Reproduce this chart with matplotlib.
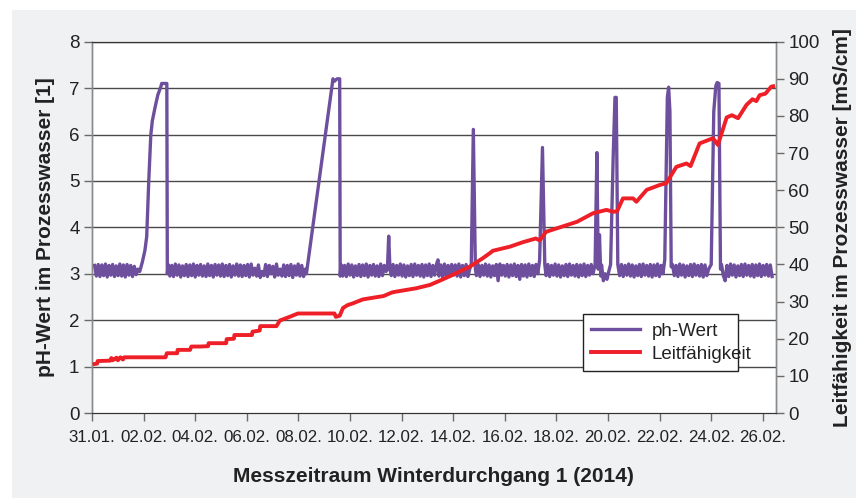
import numpy as np
import matplotlib
matplotlib.use("Agg")
import matplotlib.pyplot as plt
from matplotlib.patches import Rectangle
from matplotlib import font_manager

names = {f.name for f in font_manager.fontManager.ttflist}
fam = [n for n in ["Liberation Sans Narrow", "Liberation Sans", "DejaVu Sans"] if n in names]
plt.rcParams["font.family"] = fam

# ---------------- data ----------------
x_tick_labels = ["31.01.", "02.02.", "04.02.", "06.02.", "08.02.", "10.02.", "12.02.",
                 "14.02.", "16.02.", "18.02.", "20.02.", "22.02.", "24.02.", "26.02."]
series_names = ["ph-Wert", "Leitfähigkeit"]

# pH: baseline sampled every 0.07 day (values in pH*100); peaks as explicit (day, pH) points
ph_step = 0.07
base1_start = 0.1
base1 = [318, 295, 320, 294, 319, 296, 321, 293, 318, 297, 320, 294, 317, 296, 321, 295,
         319, 293, 320, 297, 318, 294, 316, 298, 310]
rise1_t = [1.85, 1.95, 2.05, 2.12, 2.20, 2.28, 2.34, 2.45, 2.55, 2.68, 2.70, 2.90, 2.92]
rise1_v = [3.05, 3.25, 3.50, 3.80, 5.00, 6.00, 6.30, 6.60, 6.85, 7.05, 7.10, 7.10, 3.00]
base2_start = 2.95
base2 = [320, 295, 318, 294, 321, 297, 319, 293, 317, 296, 320, 294,
         319, 296, 321, 293, 318, 297, 320, 295, 317, 294, 321, 296,
         318, 293, 320, 297, 319, 295, 321, 294, 318, 296, 320, 293,
         317, 297, 321, 295, 319, 294, 318, 296, 320, 293, 321, 297,
         312, 295, 319, 292, 305, 296, 320, 294, 318, 300, 316, 293,
         321, 297, 310, 295, 319, 294, 318, 296, 320, 292, 317, 297,
         321, 295, 318, 294, 310]
rise2_t = [8.31, 9.34, 9.40, 9.50, 9.60, 9.62]
rise2_v = [3.00, 7.20, 7.15, 7.20, 7.20, 2.95]
base3_start = 9.65
base3 = [320, 295, 318, 294, 321, 297, 319, 293, 317, 296, 320, 294,
         319, 296, 321, 293, 318, 297, 320, 295, 317, 294, 321, 296, 318, 305]
spk1_t = [11.45, 11.50, 11.55]
spk1_v = [3.10, 3.81, 3.10]
base4_start = 11.6
base4 = [296, 320, 294, 318, 297, 321, 295, 319, 293, 317, 296, 320,
         294, 321, 297, 318, 295, 320, 293, 319, 296, 321, 294, 318, 297, 320]
bump_t = [13.41]
bump_v = [3.30]
base5_start = 13.45
base5 = [295, 319, 293, 321, 296, 318, 294, 320, 297, 319, 295, 321, 293, 318, 296, 320, 294, 310]
spk2_t = [14.70, 14.78, 14.86]
spk2_v = [3.20, 6.11, 3.10]
base6_start = 14.9
base6 = [296, 320, 294, 318, 297, 321, 295, 319, 293, 317, 296, 320,
         285, 321, 297, 318, 295, 320, 293, 319, 296, 321, 294, 318,
         288, 320, 295, 319, 293, 321, 296, 318, 294, 320, 300]
spk3_t = [17.35, 17.46, 17.55]
spk3_v = [3.30, 5.72, 3.20]
base7_start = 17.6
base7 = [296, 320, 294, 318, 297, 321, 295, 319, 293, 317, 296, 320,
         294, 321, 297, 318, 295, 320, 293, 319, 296, 321, 294, 318, 297, 320, 300]
spk4_t = [19.50, 19.57, 19.62, 19.67, 19.72]
spk4_v = [3.20, 5.61, 3.10, 3.84, 2.95]
base8_start = 19.75
base8 = [319, 285, 300, 288, 305]
spk5_t = [20.10, 20.20, 20.27, 20.32, 20.38]
spk5_v = [3.20, 5.50, 6.80, 6.80, 3.20]
base9_start = 20.45
base9 = [296, 320, 294, 318, 297, 321, 295, 319, 293, 317, 296, 320,
         294, 321, 297, 318, 295, 320, 293, 319, 296, 321, 294, 318, 300]
spk6_t = [22.20, 22.30, 22.35, 22.40, 22.45]
spk6_v = [3.30, 6.80, 7.02, 6.50, 3.15]
base10_start = 22.5
base10 = [320, 296, 318, 294, 321, 297, 319, 293, 317, 296, 320, 294,
          321, 297, 318, 295, 320, 293, 319, 296, 310]
spk7_t = [24.00, 24.10, 24.18, 24.23, 24.30, 24.36]
spk7_v = [3.20, 6.50, 7.05, 7.12, 7.10, 3.10]
base11_start = 24.4
base11 = [320, 296, 285, 318, 294, 321, 297, 319, 293, 317, 296, 320,
          294, 321, 297, 318, 295, 320, 293, 319, 296, 321, 294, 318,
          297, 320, 295, 319, 294]

# conductivity (day, mS/cm)
lf_t = [0.10, 0.20, 0.22, 0.70, 0.75, 0.80, 0.95, 1.00, 1.10, 1.20, 1.25, 2.85, 2.90, 3.30,
        3.32, 3.80, 3.85, 4.20, 4.50, 4.52, 5.20, 5.22, 5.50, 5.52, 6.20, 6.22, 6.50, 6.52,
        7.15, 7.28, 7.66, 7.98, 9.40, 9.45, 9.60, 9.73, 9.92, 10.10, 10.50, 11.30, 11.64,
        11.80, 12.57, 13.10, 13.60, 14.10, 14.64, 15.15, 15.41, 15.54, 16.20, 16.70, 17.20,
        17.35, 17.60, 18.00, 18.40, 18.80, 19.42, 19.94, 20.20, 20.35, 20.58, 20.97, 21.10,
        21.50, 22.00, 22.26, 22.65, 23.04, 23.20, 23.55, 24.07, 24.26, 24.60, 24.80, 25.04,
        25.37, 25.60, 25.75, 25.88, 26.10, 26.33, 26.40]
lf_v = [13.2, 13.3, 14.0, 14.1, 14.8, 14.2, 14.9, 14.2, 15.0, 14.4, 15.0, 15.0, 16.1, 16.1,
        17.0, 17.0, 17.9, 17.9, 18.0, 18.8, 18.8, 19.9, 20.0, 21.0, 21.0, 21.9, 22.2, 23.4,
        23.4, 24.9, 25.9, 26.8, 26.8, 25.9, 26.2, 28.3, 29.1, 29.5, 30.6, 31.5, 32.5,
        32.7, 33.6, 34.5, 36.0, 37.6, 39.4, 41.7, 43.0, 43.7, 44.8, 46.0, 47.0,
        46.5, 48.8, 49.7, 50.6, 51.5, 53.8, 54.7, 54.2, 54.3, 57.8, 57.8, 56.9,
        60.1, 61.4, 61.9, 66.3, 67.2, 66.5, 72.6, 74.0, 72.2, 79.6, 80.2, 79.4,
        83.0, 84.5, 84.0, 85.6, 86.0, 87.9, 88.0]

# ------------- assemble pH series -------------
def base_seg(start, vals):
    t = start + ph_step * np.arange(len(vals))
    return list(t), [v / 100.0 for v in vals]

pieces = [
    base_seg(base1_start, base1), (rise1_t, rise1_v),
    base_seg(base2_start, base2), (rise2_t, rise2_v),
    base_seg(base3_start, base3), (spk1_t, spk1_v),
    base_seg(base4_start, base4), (bump_t, bump_v),
    base_seg(base5_start, base5), (spk2_t, spk2_v),
    base_seg(base6_start, base6), (spk3_t, spk3_v),
    base_seg(base7_start, base7), (spk4_t, spk4_v),
    base_seg(base8_start, base8), (spk5_t, spk5_v),
    base_seg(base9_start, base9), (spk6_t, spk6_v),
    base_seg(base10_start, base10), (spk7_t, spk7_v),
    base_seg(base11_start, base11),
]
ph_t, ph_v = [], []
for t, v in pieces:
    ph_t += list(t)
    ph_v += list(v)

# ------------- figure -------------
W, H = 856, 498
fig = plt.figure(figsize=(W / 100, H / 100), dpi=100)
fig.patch.set_facecolor("white")
fig.add_artist(Rectangle((12 / W, 0), 1 - 12 / W, 1 - 10 / H, transform=fig.transFigure,
                         facecolor="#f0f1f3", edgecolor="none", zorder=0))

ax = fig.add_axes([92 / W, 1 - 413 / H, (775.7 - 92) / W, (413 - 41.7) / H])
ax.set_facecolor("white")
ax.set_zorder(1)

purple = "#6e4f9e"
red = "#ee1f26"

ax.set_xlim(0, 26.5)
ax.set_ylim(0, 8)
ax.set_yticks(range(0, 9))
ax.set_xticks(np.arange(0, 27, 2))
ax.set_xticklabels(x_tick_labels)
for y in range(1, 9):
    ax.axhline(y, color="#4a4a4a", lw=1.0, zorder=1)

l1, = ax.plot(ph_t, ph_v, color=purple, lw=2.4, zorder=3, solid_joinstyle="round")

ax2 = ax.twinx()
ax2.set_ylim(0, 100)
ax2.set_yticks(range(0, 101, 10))
l2, = ax2.plot(lf_t, lf_v, color=red, lw=2.8, zorder=4, solid_joinstyle="round")

for a in (ax, ax2):
    for s in ("left", "right"):
        a.spines[s].set_color("#8a8a8a")
        a.spines[s].set_linewidth(1.0)
    a.spines["bottom"].set_color("#333333")
    a.spines["top"].set_color("#333333")
    a.tick_params(axis="both", labelsize=13.5, length=6, width=1.0, color="#6a6a6a",
                  labelcolor="#222222", pad=3)
ax.tick_params(axis="x", labelsize=12.2, pad=6)

ax.set_ylabel("pH-Wert im Prozesswasser [1]", fontsize=15, fontweight="bold",
              color="#222222", labelpad=10)
ax2.set_ylabel("Leitfähigkeit im Prozesswasser [mS/cm]", fontsize=15, fontweight="bold",
               color="#222222", labelpad=10)
ax.set_xlabel("Messzeitraum Winterdurchgang 1 (2014)", fontsize=15, fontweight="bold",
              color="#222222", labelpad=16)

leg = ax2.legend([l1, l2], series_names, loc="lower left",
                 bbox_to_anchor=(0.718, 0.113, 0.227, 0.156), mode="expand",
                 borderaxespad=0, fontsize=13.5, frameon=True, fancybox=False, framealpha=1,
                 edgecolor="#222222", handlelength=2.6, borderpad=0.45,
                 labelspacing=0.3, handletextpad=0.6)
leg.get_frame().set_linewidth(1.0)
for t in leg.get_texts():
    t.set_color("#222222")

fig.savefig("out.png", dpi=100, facecolor=fig.get_facecolor())
